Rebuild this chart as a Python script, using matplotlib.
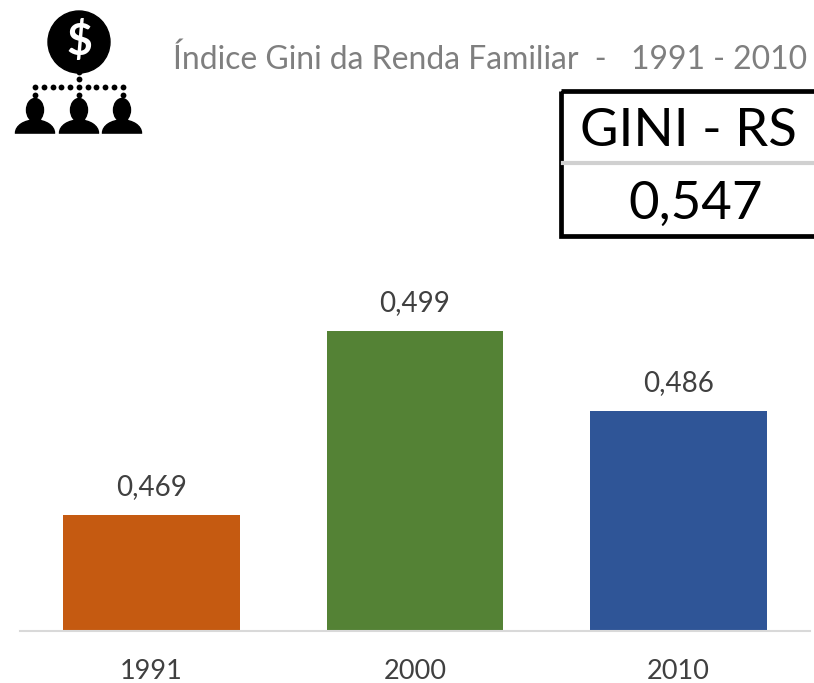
import matplotlib
matplotlib.use('Agg')
import matplotlib.pyplot as plt
from matplotlib.patches import Circle, Rectangle, Ellipse

anos = ['1991', '2000', '2010']
gini = [0.469, 0.499, 0.486]
rotulos = ['0,469', '0,499', '0,486']
cores = ['#C55A11', '#548235', '#2F5597']
titulo = 'Índice Gini da Renda Familiar  -   1991 - 2010'

plt.rcParams['font.family'] = ['Lato', 'DejaVu Sans']
W, H = 814, 683
fig = plt.figure(figsize=(W / 100, H / 100), dpi=100)

# eixo das barras: y de pixel 631 = base, 300 px = 0,049
ax = fig.add_axes([20 / W, (H - 631) / H, 790 / W, 400 / H])
ax.bar(range(3), gini, width=0.67, color=cores)
ax.set_xlim(-0.5, 2.5)
ax.set_ylim(0.45, 0.45 + 0.049 * 400 / 300)
for i, v in enumerate(gini):
    ax.annotate(rotulos[i], (i, v), xytext=(0, 28), textcoords='offset pixels',
                ha='center', va='center', fontsize=20, color='#404040')
for s in ['top', 'left', 'right']:
    ax.spines[s].set_visible(False)
ax.spines['bottom'].set_color('#D9D9D9')
ax.spines['bottom'].set_linewidth(1.5)
ax.set_yticks([])
ax.set_xticks(range(3))
ax.set_xticklabels(anos, fontsize=19.5, color='#404040')
ax.tick_params(axis='x', length=0, pad=20.5)

# camada em pixels para titulo, caixa e icone
ov = fig.add_axes([0, 0, 1, 1])
ov.set_xlim(0, W)
ov.set_ylim(H, 0)
ov.axis('off')
ov.patch.set_alpha(0)
ov.text(173, 60, titulo, fontsize=22.95, color='#7F7F7F', va='center', ha='left')

ov.plot([563, 814], [163, 163], color='#D0D0D0', lw=3)
ov.add_patch(Rectangle((560.5, 90.5), 280, 145, fill=False, ec='black', lw=3.4))
ov.text(688, 131, 'GINI - RS', fontsize=38, color='black', ha='center', va='center')
ov.text(696, 204, '0,547', fontsize=38, color='black', ha='center', va='center')

# icone
ov.add_patch(Circle((79, 42), 31, color='black'))
ov.text(79, 41, '$', fontsize=32, color='white', weight='bold', ha='center', va='center',
        parse_math=False)
xs = [35 + 8.77 * k for k in range(11)]
ov.plot(xs, [87] * 11, 'o', color='black', ms=4.2, mew=0)
ov.plot([79, 79, 79], [72, 79, 95], 'o', color='black', ms=4.2, mew=0)
ov.plot([35, 122.7], [95, 95], 'o', color='black', ms=4.2, mew=0)
for cx in [35, 79, 122]:
    ov.add_patch(Ellipse((cx, 110), 17, 23, color='black'))
    ov.add_patch(Rectangle((cx - 5, 114), 10, 10, color='black'))
    ov.add_patch(Ellipse((cx, 133), 39, 26, color='black'))
ov.add_patch(Rectangle((10, 133.5), 140, 16, color='white', zorder=3))

fig.savefig('out.png', dpi=100)
